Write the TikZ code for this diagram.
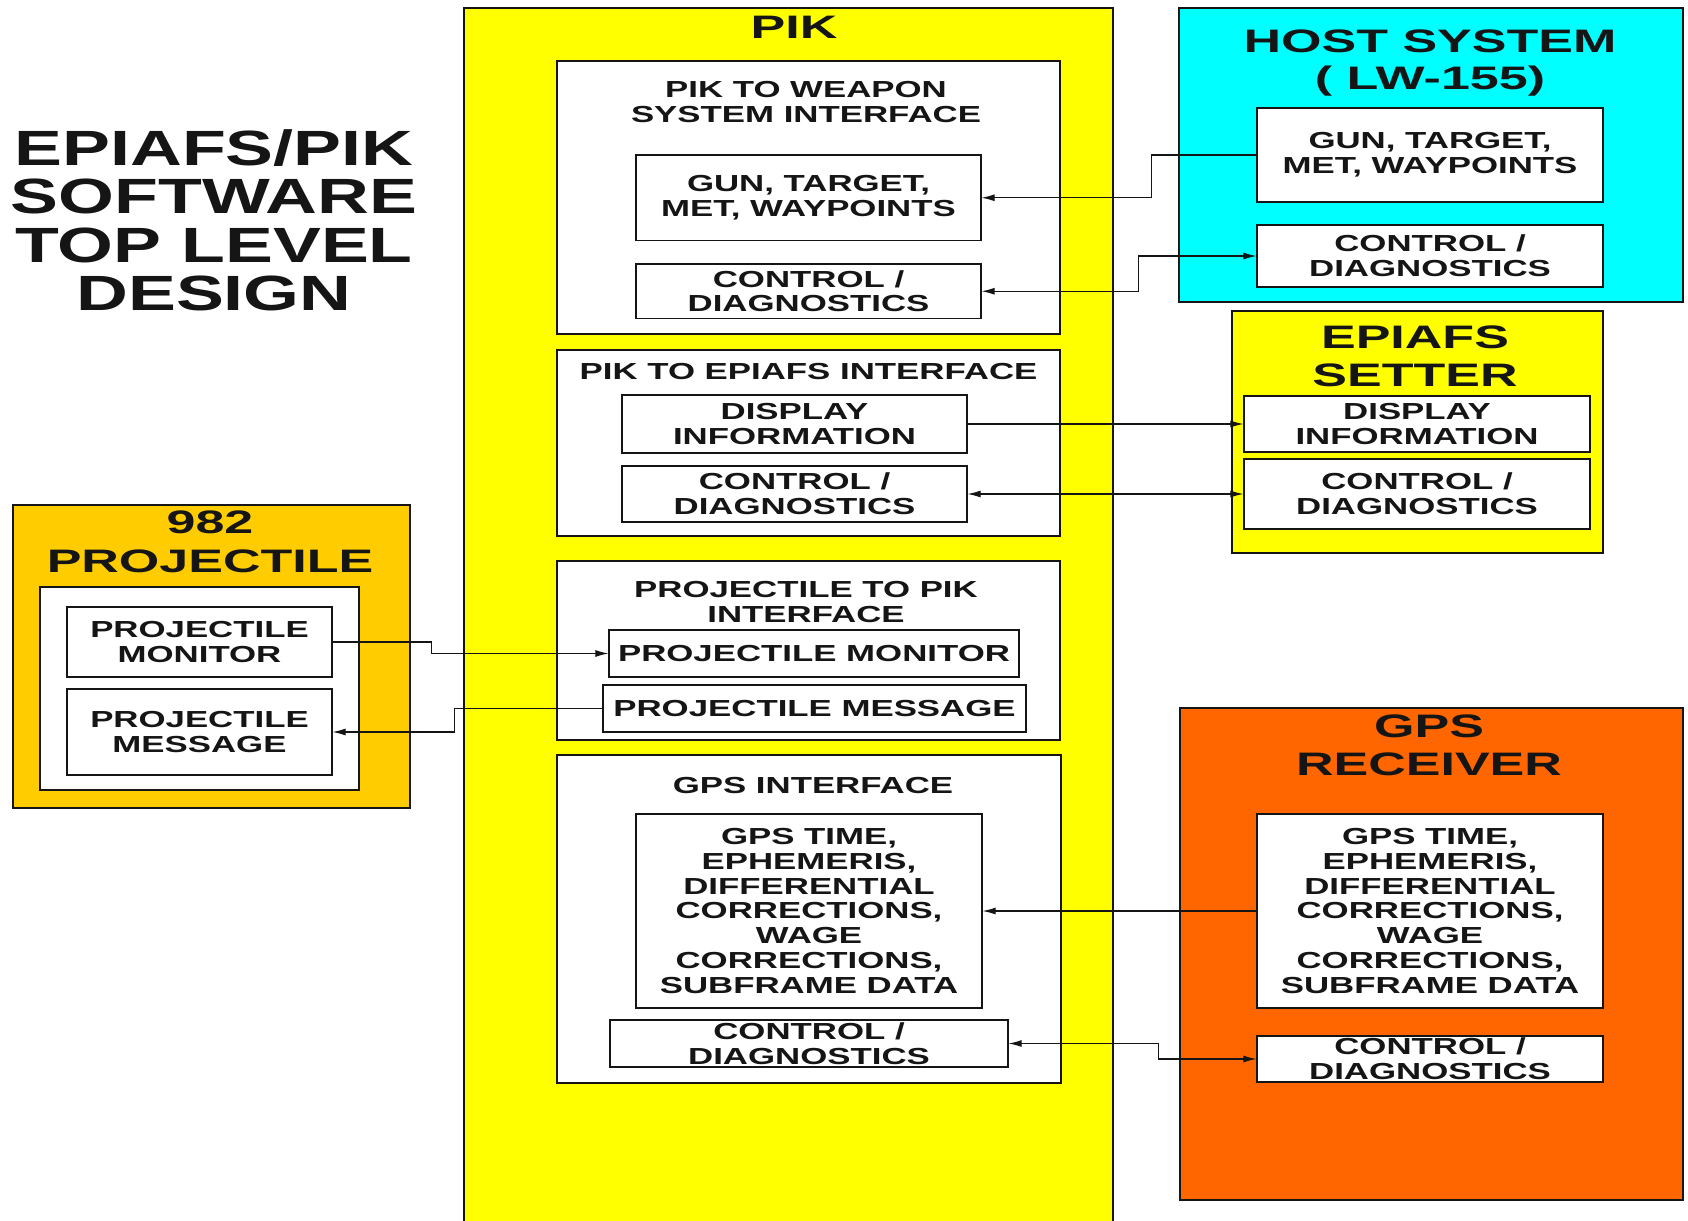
\documentclass[tikz,border=0pt]{standalone}
\usepackage{fontspec}
\usetikzlibrary{arrows.meta}
\newfontfamily\bodyfont{Liberation Sans}[FakeStretch=1.5]
\newfontfamily\headfont{Liberation Sans}[FakeStretch=1.6]
\newfontfamily\titlefont{Liberation Sans}[FakeStretch=1.45]
\newcommand\bodytext{\bodyfont\bfseries\fontsize{23.2}{24.7}\selectfont}
\newcommand\headtext{\headfont\bfseries\fontsize{32.5}{37.5}\selectfont}
\newcommand\titletext{\titlefont\bfseries\fontsize{49.5}{48.3}\selectfont}
\definecolor{pikyellow}{HTML}{FFFF00}
\definecolor{hostcyan}{HTML}{00FFFF}
\definecolor{projgold}{HTML}{FFCC00}
\definecolor{gpsorange}{HTML}{FF6600}
\definecolor{ink}{HTML}{151515}
\begin{document}
\begin{tikzpicture}[x=1pt,y=-1pt,
  bigbox/.style={draw=ink, line width=1.3pt, inner sep=0pt, rectangle},
  wbox/.style={draw=ink, fill=white, line width=1.2pt, inner sep=0pt, align=center, font=\bodytext, text=ink},
  headlbl/.style={anchor=base, inner sep=0pt, font=\headtext, text=ink},
  sublbl/.style={anchor=base, inner sep=0pt, font=\bodytext, text=ink},
  ttllbl/.style={anchor=base, inner sep=0pt, font=\titletext, text=ink},
  arr/.style={line width=1.1pt, draw=ink, -{Latex[length=13pt,width=7pt]}},
  darr/.style={line width=1.1pt, draw=ink, {Latex[length=13pt,width=7pt]}-{Latex[length=13pt,width=7pt]}}]
\useasboundingbox (0,0) rectangle (1688,1220);
\clip (0,0) rectangle (1688,1220);
\fill[white] (0,0) rectangle (1688,1220);

% title
\node[ttllbl] (t1) at (214,165) {EPIAFS/PIK};
\node[ttllbl] (t2) at (214,213) {SOFTWARE};
\node[ttllbl] (t3) at (214,262) {TOP LEVEL};
\node[ttllbl] (t4) at (214,310) {DESIGN};

% PIK
\node[bigbox, fill=pikyellow, minimum width=649pt, minimum height=1232pt] (pik) at (788.5,624) {};
\node[headlbl] (pikl) at (794,39) {PIK};

\node[bigbox, fill=white, minimum width=503pt, minimum height=273pt] (b1) at (808.5,197.5) {};
\node[sublbl] (b1a) at (806,98) {PIK TO WEAPON};
\node[sublbl] (b1b) at (806,123) {SYSTEM INTERFACE};
\node[wbox, minimum width=345pt, minimum height=85.5pt] (pgun) at (808.5,197.75) {GUN, TARGET,\\MET, WAYPOINTS};
\node[wbox, minimum width=345pt, minimum height=54.5pt] (pctl) at (808.5,291.25) {CONTROL /\\DIAGNOSTICS};

\node[bigbox, fill=white, minimum width=503pt, minimum height=186pt] (b2) at (808.5,443) {};
\node[sublbl] (b2a) at (808.5,379) {PIK TO EPIAFS INTERFACE};
\node[wbox, minimum width=345pt, minimum height=58pt] (pdisp) at (794.5,424) {DISPLAY\\INFORMATION};
\node[wbox, minimum width=345pt, minimum height=56pt] (pctl2) at (794.5,494) {CONTROL /\\DIAGNOSTICS};

\node[bigbox, fill=white, minimum width=503pt, minimum height=179pt] (b3) at (808.5,650.5) {};
\node[sublbl] (b3a) at (806,597) {PROJECTILE TO PIK};
\node[sublbl] (b3b) at (806,622) {INTERFACE};
\node[wbox, minimum width=410pt, minimum height=47pt] (ppm) at (814,653.5) {PROJECTILE MONITOR};
\node[wbox, minimum width=423pt, minimum height=47pt] (ppmsg) at (814.5,708.5) {PROJECTILE MESSAGE};

\node[bigbox, fill=white, minimum width=504pt, minimum height=328pt] (b4) at (809,919) {};
\node[sublbl] (b4a) at (813,793) {GPS INTERFACE};
\node[wbox, minimum width=346pt, minimum height=194pt] (pgps) at (809,911) {GPS TIME,\\EPHEMERIS,\\DIFFERENTIAL\\CORRECTIONS,\\WAGE\\CORRECTIONS,\\SUBFRAME DATA};
\node[wbox, minimum width=398pt, minimum height=47pt] (pctl3) at (809,1043.5) {CONTROL /\\DIAGNOSTICS};

% HOST SYSTEM
\node[bigbox, fill=hostcyan, minimum width=504pt, minimum height=294pt] (host) at (1431,155) {};
\node[headlbl] (hl1) at (1430,52.7) {HOST SYSTEM};
\node[headlbl] (hl2) at (1430,90) {( LW-155)};
\node[wbox, minimum width=346pt, minimum height=94pt] (hgun) at (1430,155) {GUN, TARGET,\\MET, WAYPOINTS};
\node[wbox, minimum width=346pt, minimum height=62pt] (hctl) at (1430,256) {CONTROL /\\DIAGNOSTICS};

% EPIAFS SETTER
\node[bigbox, fill=pikyellow, minimum width=371pt, minimum height=242pt] (eset) at (1417.5,432) {};
\node[headlbl] (el1) at (1415,348) {EPIAFS};
\node[headlbl] (el2) at (1415,386) {SETTER};
\node[wbox, minimum width=346pt, minimum height=56pt] (edisp) at (1417,424) {DISPLAY\\INFORMATION};
\node[wbox, minimum width=346pt, minimum height=70pt] (ectl) at (1417,494) {CONTROL /\\DIAGNOSTICS};

% 982 PROJECTILE
\node[bigbox, fill=projgold, minimum width=397pt, minimum height=303pt] (proj) at (211.5,656.5) {};
\node[headlbl] (jl1) at (210,533) {982};
\node[headlbl] (jl2) at (210,572) {PROJECTILE};
\node[bigbox, fill=white, minimum width=319pt, minimum height=203pt] (jin) at (199.5,688.5) {};
\node[wbox, minimum width=265pt, minimum height=70pt] (jpm) at (199.5,642) {PROJECTILE\\MONITOR};
\node[wbox, minimum width=265pt, minimum height=86pt] (jpmsg) at (199.5,732) {PROJECTILE\\MESSAGE};

% GPS RECEIVER
\node[bigbox, fill=gpsorange, minimum width=503pt, minimum height=492pt] (rcv) at (1431.5,954) {};
\node[headlbl] (rl1) at (1429,737) {GPS};
\node[headlbl] (rl2) at (1429,775) {RECEIVER};
\node[wbox, minimum width=346pt, minimum height=194pt] (rgps) at (1430,911) {GPS TIME,\\EPHEMERIS,\\DIFFERENTIAL\\CORRECTIONS,\\WAGE\\CORRECTIONS,\\SUBFRAME DATA};
\node[wbox, minimum width=346pt, minimum height=46pt] (rctl) at (1430,1059) {CONTROL /\\DIAGNOSTICS};

% connectors
\draw[arr] (hgun.west) -- ++(-105,0) |- (pgun.east);
\draw[darr] (pctl.east) -- ++(157,0) |- (hctl.west);
\draw[arr] (pdisp.east) -- (edisp.west);
\draw[darr] (pctl2.east) -- (ectl.west);
\draw[arr] (jpm.east) -- ++(99,0) |- (ppm.west);
\draw[arr] (ppmsg.west) -- ++(-148,0) |- (jpmsg.east);
\draw[arr] (rgps.west) -- (pgps.east);
\draw[darr] (pctl3.east) -- ++(150,0) |- (rctl.west);
\end{tikzpicture}
\end{document}
